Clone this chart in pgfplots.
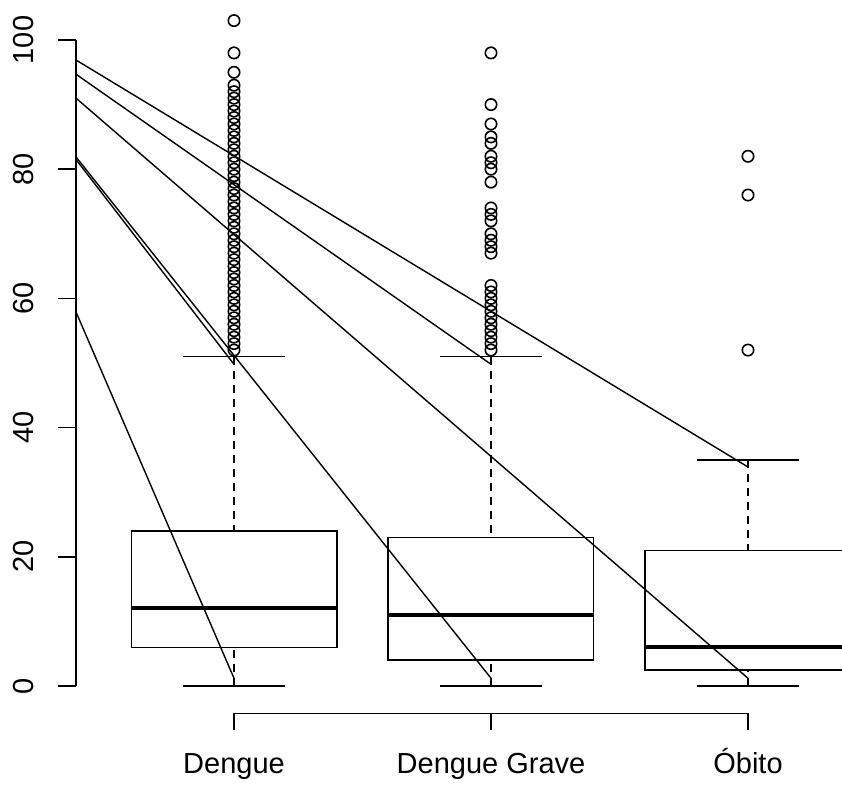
\documentclass[border=0pt]{standalone}
\usepackage{fontspec}
\setmainfont{Liberation Sans}
\usepackage{pgfplots}
\usepgfplotslibrary{statistics}
\pgfplotsset{compat=1.18}
\newcommand{\lf}{\fontsize{14.5}{17}\selectfont}
\begin{document}
\begin{tikzpicture}
\begin{axis}[
  scale only axis, width=421pt, height=392pt,
  xmin=0.08949, xmax=3.3658, ymin=-15.17, ymax=106.19,
  axis line style={draw=none}, ticks=none,
  clip=true,
  every axis plot/.append style={line width=0.7pt, black},
  boxplot/draw direction=y,
  boxplot/box extend=0.8,
  boxplot/whisker extend=0.4,
  boxplot/every median/.style={line width=2pt},
  boxplot/draw/lower whisker/.code={%
    \draw[line width=0.7pt, dash pattern=on 4pt off 3pt] (boxplot box cs:\pgfplotsboxplotvalue{lower whisker},0.5) -- (boxplot box cs:\pgfplotsboxplotvalue{lower quartile},0.5);
    \draw[line width=0.7pt] (boxplot whisker cs:\pgfplotsboxplotvalue{lower whisker},0) -- (boxplot whisker cs:\pgfplotsboxplotvalue{lower whisker},1);
  },
  boxplot/draw/upper whisker/.code={%
    \draw[line width=0.7pt, dash pattern=on 4pt off 3pt] (boxplot box cs:\pgfplotsboxplotvalue{upper whisker},0.5) -- (boxplot box cs:\pgfplotsboxplotvalue{upper quartile},0.5);
    \draw[line width=0.7pt] (boxplot whisker cs:\pgfplotsboxplotvalue{upper whisker},0) -- (boxplot whisker cs:\pgfplotsboxplotvalue{upper whisker},1);
  },
]
% Dengue
\addplot[black, line width=0.7pt, mark=o, mark size=2.85pt, mark options={solid, line width=0.8pt},
  boxplot prepared={lower whisker=0, lower quartile=6, median=12, upper quartile=24, upper whisker=51, draw position=1}]
  table[row sep=\\, y index=0] {data\\ 52\\ 53\\ 54\\ 55\\ 56\\ 57\\ 58\\ 59\\ 60\\ 61\\ 62\\ 63\\ 64\\ 65\\ 66\\ 67\\ 68\\ 69\\ 70\\ 71\\ 72\\ 73\\ 74\\ 75\\ 76\\ 77\\ 78\\ 79\\ 80\\ 81\\ 82\\ 83\\ 84\\ 85\\ 86\\ 87\\ 88\\ 89\\ 90\\ 91\\ 92\\ 93\\ 95\\ 98\\ 103\\};
% Dengue Grave
\addplot[black, line width=0.7pt, mark=o, mark size=2.85pt, mark options={solid, line width=0.8pt},
  boxplot prepared={lower whisker=0, lower quartile=4, median=11, upper quartile=23, upper whisker=51, draw position=2}]
  table[row sep=\\, y index=0] {data\\ 52\\ 53\\ 54\\ 55\\ 56\\ 57\\ 58\\ 59\\ 60\\ 61\\ 62\\ 67\\ 68\\ 69\\ 70\\ 72\\ 73\\ 74\\ 78\\ 80\\ 81\\ 82\\ 84\\ 85\\ 87\\ 90\\ 98\\};
% Obito
\addplot[black, line width=0.7pt, mark=o, mark size=2.85pt, mark options={solid, line width=0.8pt},
  boxplot prepared={lower whisker=0, lower quartile=2.5, median=6, upper quartile=21, upper whisker=35, draw position=3}]
  table[row sep=\\, y index=0] {data\\ 52\\ 76\\ 82\\};

% overlay lines
\addplot[line width=0.7pt] coordinates {(0.3852,96.9) (3,33.9)};
\addplot[line width=0.7pt] coordinates {(0.3852,94.7) (2,49.8)};
\addplot[line width=0.7pt] coordinates {(0.3852,91.0) (3,1.2)};
\addplot[line width=0.7pt] coordinates {(0.3852,81.5) (1,49.8)};
\addplot[line width=0.7pt] coordinates {(0.3852,81.9) (2,1.2)};
\addplot[line width=0.7pt] coordinates {(0.3852,57.9) (1,1.2)};

% y axis
\addplot[line width=0.7pt] coordinates {(0.3852,0) (0.3852,100)};
\addplot[line width=0.7pt] coordinates {(0.3152,0) (0.3852,0)};
\addplot[line width=0.7pt] coordinates {(0.3152,20) (0.3852,20)};
\addplot[line width=0.7pt] coordinates {(0.3152,40) (0.3852,40)};
\addplot[line width=0.7pt] coordinates {(0.3152,60) (0.3852,60)};
\addplot[line width=0.7pt] coordinates {(0.3152,80) (0.3852,80)};
\addplot[line width=0.7pt] coordinates {(0.3152,100) (0.3852,100)};
% x axis bracket
\addplot[line width=0.7pt] coordinates {(1,-6.81) (1,-4.23) (3,-4.23) (3,-6.81)};
\addplot[line width=0.7pt] coordinates {(2,-4.23) (2,-6.81)};

\node[rotate=90, anchor=base, font=\lf] at (axis cs:0.2179,0) {0};
\node[rotate=90, anchor=base, font=\lf] at (axis cs:0.2179,20) {20};
\node[rotate=90, anchor=base, font=\lf] at (axis cs:0.2179,40) {40};
\node[rotate=90, anchor=base, font=\lf] at (axis cs:0.2179,60) {60};
\node[rotate=90, anchor=base, font=\lf] at (axis cs:0.2179,80) {80};
\node[rotate=90, anchor=base, font=\lf] at (axis cs:0.2179,100) {100};

\node[anchor=base, font=\lf] at (axis cs:1,-13.47) {Dengue};
\node[anchor=base, font=\lf] at (axis cs:2,-13.47) {Dengue Grave};
\node[anchor=base, font=\lf] at (axis cs:3,-13.47) {Óbito};
\end{axis}
\pgfresetboundingbox
\useasboundingbox (current axis.south west) rectangle (current axis.north east);
\end{tikzpicture}
\end{document}
